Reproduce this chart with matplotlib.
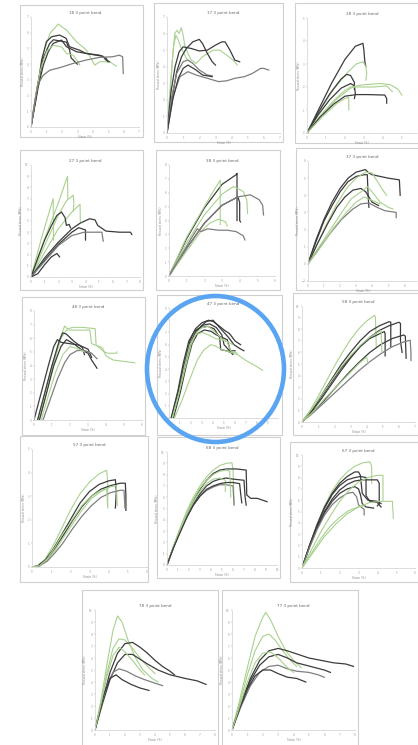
import matplotlib
matplotlib.use("Agg")
import matplotlib.pyplot as plt
from matplotlib.patches import Rectangle, Ellipse

# ---------------- data (strain %, stress) ----------------
titles = ["18 3 point bend", "17 3 point bend", "28 3 point bend",
          "27 3 point bend", "38 3 point bend", "37 3 point bend",
          "48 3 point bend", "47 3 point bend", "58 3 point bend",
          "57 3 point bend", "68 3 point bend", "67 3 point bend",
          "78 3 point bend", "77 3 point bend"]

p18_grp = ["g", "d", "d", "d", "g", "m"]
p18 = [
    [(0,0),(0.15,1.06),(0.47,2.98),(0.8,4.68),(1.23,5.96),(1.76,6.55),(2.3,6.17),(2.95,5.43),(3.59,4.89),(4.13,3.94),(4.45,4.15),(5.1,4.15),(5.53,3.87)],
    [(0,0),(0.37,2.13),(0.69,4.26),(1.0,5.43),(1.33,5.74),(1.85,5.85),(2.28,5.64),(2.49,5.11),(3.14,4.89),(3.57,4.68),(4.22,4.57),(4.65,4.51),(4.86,4.26),(5.08,4.15)],
    [(0,0),(0.4,2.5),(0.8,4.4),(1.2,5.3),(1.45,5.55),(2.3,5.4),(2.5,4.9),(2.6,4.4),(3.0,4.0)],
    [(0,0),(0.47,2.55),(0.8,3.94),(1.12,4.79),(1.44,5.32),(1.98,5.53),(2.3,5.11),(2.95,4.79),(3.59,4.68),(4.45,4.57),(4.88,4.36),(5.0,4.15)],
    [(0,0),(0.3,2.0),(0.6,3.6),(1.0,4.8),(1.44,5.2),(1.98,5.1),(2.3,4.68),(2.73,4.57),(3.05,4.15),(3.16,3.94)],
    [(0,0),(0.26,1.7),(0.47,2.77),(0.8,3.3),(1.23,3.62),(1.85,3.77),(2.71,4.04),(3.57,4.26),(4.43,4.43),(5.29,4.47),(5.72,4.57),(5.94,4.47),(5.98,3.4)],
]

p17_grp = ["g", "g", "d", "d", "m", "m", "d"]
p17 = [
    [(0,0),(0.2,2.5),(0.35,4.6),(0.48,6.0),(0.62,6.2),(0.75,6.0),(0.89,6.35),(1.0,5.9),(1.1,5.3),(1.3,4.8),(1.5,4.4),(1.8,4.2),(2.2,4.6),(2.85,5.0),(3.27,5.0),(3.7,4.7),(4.1,4.4),(4.35,4.1)],
    [(0,0),(0.2,2.8),(0.4,5.2),(0.55,5.9),(0.7,5.6),(0.85,5.2),(1.0,4.9),(1.2,4.5),(1.4,4.3)],
    [(0,0),(0.3,2.0),(0.6,3.7),(0.9,4.6),(1.2,5.1),(1.6,5.5),(2.0,5.65),(2.2,5.4),(2.5,4.8),(2.8,4.3),(3.0,4.1)],
    [(0,0),(0.25,2.5),(0.5,4.0),(0.75,4.9),(1.0,5.2),(1.5,5.1),(2.0,4.95),(2.5,5.0),(3.0,5.3),(3.4,5.5),(3.6,5.5),(3.9,5.0),(4.2,4.4),(4.5,4.3)],
    [(0,0),(0.3,2.2),(0.6,3.6),(1.0,4.3),(1.3,4.4),(1.6,4.2),(2.0,3.8),(2.5,3.5),(2.8,3.45)],
    [(0,0),(0.4,2.3),(0.8,3.4),(1.3,3.7),(1.8,3.5),(2.5,3.3),(3.2,3.1),(3.7,3.15),(4.2,3.3),(4.8,3.4),(5.3,3.6),(5.8,3.9),(6.0,3.9),(6.3,3.8)],
    [(0,0),(0.35,2.0),(0.7,3.3),(1.0,3.9),(1.3,4.1),(1.8,3.8),(2.2,3.5),(2.8,3.4)],
]

p28_grp = ["d", "g", "d", "d", "g", "g", "d", "g"]
p28 = [
    [(0,0),(0.6,1.0),(1.3,2.17),(2.0,3.2),(2.55,3.77),(2.95,3.9),(3.0,3.6),(3.05,3.1),(3.1,2.9)],
    [(0,0),(0.7,1.0),(1.4,1.9),(2.1,2.6),(2.6,3.0),(2.95,3.1),(3.1,2.9),(3.15,2.6),(3.1,2.3)],
    [(0,0),(0.6,0.9),(1.2,1.7),(1.8,2.35),(2.1,2.55),(2.3,2.5),(2.4,2.35),(2.5,2.2),(2.5,1.9)],
    [(0,0),(0.6,0.8),(1.2,1.45),(1.8,1.95),(2.3,2.15),(2.5,2.05),(2.55,1.7),(2.5,1.5)],
    [(0,0),(0.7,0.75),(1.4,1.4),(2.0,1.85),(2.3,2.0),(3.0,2.1),(3.9,2.15),(4.4,2.1),(4.8,1.9),(5.0,1.65)],
    [(0,0),(0.8,0.8),(1.6,1.5),(2.3,1.95),(2.5,2.0),(3.5,2.0),(4.2,2.05),(4.5,1.8)],
    [(0,0),(0.7,0.7),(1.4,1.25),(2.0,1.6),(2.6,1.67),(3.2,1.67),(4.1,1.65),(4.2,1.5),(4.2,1.3)],
    [(0,0),(0.8,0.7),(1.6,1.3),(2.0,1.5),(2.2,1.55),(2.2,1.0)],
]

p27_grp = ["g", "g", "g", "g", "d", "d", "d", "m", "d"]
p27 = [
    [(0,0),(1.0,3.4),(2.0,6.6),(2.68,9.0),(2.7,7.0)],
    [(0,0),(0.8,3.6),(1.63,7.0),(1.65,3.3)],
    [(0,0),(1.0,2.8),(2.0,5.5),(2.6,6.8),(3.1,7.3),(3.15,6.6),(3.1,5.9)],
    [(0,0),(1.0,2.2),(2.0,4.3),(3.0,5.8),(3.6,6.5),(3.62,4.9)],
    [(0,0),(0.5,1.7),(1.0,3.3),(1.5,4.6),(1.9,5.5),(2.24,5.8),(2.5,5.3),(2.6,4.6),(2.8,4.7),(2.9,4.4)],
    [(0,0),(1.0,1.7),(2.0,3.1),(3.0,4.3),(3.6,4.8),(4.3,5.2),(4.7,5.1),(4.9,4.6),(5.5,4.1),(6.5,4.0),(7.3,4.0),(7.4,3.8)],
    [(0,0),(1.0,1.5),(2.0,2.9),(3.0,4.0),(3.5,4.4),(4.0,4.2),(4.0,3.3)],
    [(0,0),(1.0,1.4),(2.0,2.8),(3.0,3.7),(3.9,4.0),(5.2,4.0),(5.3,3.2)],
    [(0,0),(0.5,0.3),(1.0,1.1),(1.5,1.8),(1.9,2.1),(2.1,1.8)],
]

p38_grp = ["d", "g", "g", "d", "m", "g", "m"]
p38 = [
    [(0,0),(1.0,2.7),(2.0,4.9),(3.0,6.6),(3.8,7.3),(3.85,7.4),(3.85,4.0)],
    [(0,0),(1.0,2.8),(2.0,5.0),(2.6,6.3),(2.9,6.9),(2.9,3.7)],
    [(0,0),(1.0,2.4),(2.0,4.4),(3.0,5.9),(3.65,6.45),(4.2,6.1),(4.4,5.5),(4.45,4.5)],
    [(0,0),(1.0,2.0),(2.0,3.8),(3.0,5.1),(3.9,5.7),(4.0,5.3),(4.0,4.0),(4.05,3.9)],
    [(0,0),(1.0,2.0),(2.0,3.8),(3.0,5.1),(3.9,5.7),(4.6,5.85),(5.1,5.5),(5.3,5.1),(5.35,4.4)],
    [(0,0),(1.0,1.8),(1.8,3.2),(2.3,3.8),(2.8,4.1),(3.2,3.9),(3.3,3.6)],
    [(0,0),(0.7,1.5),(1.3,2.8),(1.6,3.4),(1.8,3.2),(2.2,3.4),(2.8,3.3),(3.3,3.3),(3.8,3.2),(4.2,2.9),(4.3,2.6)],
]

p37_grp = ["d", "d", "g", "d", "g", "m", "g"]
p37 = [
    [(0,0),(0.5,1.4),(1.0,2.6),(1.5,3.6),(2.0,4.4),(2.5,5.0),(3.0,5.35),(3.58,5.5),(3.8,5.3),(4.0,5.2),(4.5,5.1),(5.0,5.0),(5.7,4.9),(5.75,4.0)],
    [(0,0),(0.5,1.3),(1.0,2.5),(1.5,3.4),(2.0,4.2),(2.5,4.8),(3.0,5.1),(3.5,5.2),(3.7,5.2),(3.75,4.0),(3.8,3.3)],
    [(0,0),(0.6,1.2),(1.2,2.4),(1.8,3.5),(2.4,4.4),(3.0,5.0),(3.6,5.35),(4.0,5.3),(4.2,5.0),(4.6,4.4),(4.9,4.0)],
    [(0,0),(0.6,1.2),(1.2,2.3),(1.8,3.3),(2.3,3.9),(2.8,4.3),(3.3,4.4),(3.6,4.2),(3.8,3.9),(4.0,3.6),(4.4,3.4)],
    [(0,0),(0.7,1.0),(1.4,2.0),(2.1,3.0),(2.7,3.8),(3.3,4.2),(3.7,4.5),(4.0,4.2),(4.5,3.6),(5.0,3.3),(5.3,3.2)],
    [(0,0),(0.7,0.9),(1.4,1.8),(2.1,2.6),(2.8,3.2),(3.3,3.5),(3.8,3.55),(4.3,3.3),(4.8,3.1),(5.5,3.0),(5.5,2.7)],
    [(0,0),(0.8,1.0),(1.6,2.1),(2.4,3.0),(3.0,3.6),(3.5,3.9),(4.0,3.7),(4.5,3.5)],
]

p48_grp = ["g", "g", "d", "d", "d", "m", "g"]
p48 = [
    [(0.2,0),(0.6,2.0),(1.0,4.0),(1.4,5.8),(1.7,6.9),(1.85,6.7),(2.2,6.8),(2.7,6.8),(3.4,6.7),(3.45,5.5),(3.9,5.0),(4.1,4.9),(4.6,4.9),(4.6,5.0)],
    [(0.3,0),(0.7,2.0),(1.1,4.2),(1.5,6.0),(1.8,6.6),(2.4,6.6),(3.1,6.6),(3.2,5.6),(3.8,5.3),(4.0,4.7),(4.4,4.4),(5.0,4.3),(5.6,4.2)],
    [(0,0),(0.4,2.0),(0.8,4.0),(1.1,5.4),(1.3,5.9),(1.5,5.7),(2.0,5.6),(2.5,5.5),(2.7,5.3),(2.8,4.8)],
    [(0.2,0),(0.6,2.0),(1.0,4.0),(1.4,5.8),(1.6,6.4),(1.8,6.3),(2.2,5.8),(2.5,5.5),(3.0,5.2),(3.2,4.6)],
    [(0.3,0),(0.7,2.0),(1.1,4.0),(1.5,5.4),(1.8,5.9),(2.2,5.6),(2.7,5.1),(3.0,4.9),(3.2,4.4),(3.4,4.0),(3.5,3.8)],
    [(0.5,0),(0.9,1.5),(1.3,3.0),(1.7,4.2),(2.0,4.8),(2.4,5.1),(2.8,5.1),(3.2,4.9),(3.5,4.5)],
    [(0.4,0),(0.8,1.8),(1.2,3.5),(1.6,4.8),(2.0,5.4),(2.5,5.2),(2.8,5.0)],
]

p47_grp = ["d", "d", "d", "d", "d", "g", "g", "g"]
p47 = [
    [(0.2,0),(0.8,2.0),(1.4,4.5),(1.9,6.3),(2.4,7.3),(3.0,7.8),(3.6,8.0),(4.0,7.9),(4.6,7.5),(5.0,7.2),(5.5,6.9),(6.0,6.3),(6.5,6.0)],
    [(0.3,0),(0.9,2.0),(1.5,4.4),(2.0,6.2),(2.5,7.2),(3.1,7.6),(3.7,7.7),(4.3,7.4),(4.8,6.8),(5.0,6.0),(5.2,5.8),(5.5,5.5),(6.0,5.5)],
    [(0.2,0),(0.8,2.2),(1.3,4.5),(1.8,6.3),(2.3,7.1),(2.9,7.4),(3.5,7.5),(4.1,7.3),(4.6,6.6),(4.7,5.6),(5.2,5.5),(5.8,5.3)],
    [(0.4,0),(1.0,2.0),(1.6,4.4),(2.1,6.1),(2.6,6.9),(3.2,7.2),(3.8,7.1),(4.3,6.8),(4.8,6.6),(5.3,6.4),(5.6,5.4),(5.8,5.2)],
    [(0.3,0),(0.9,2.1),(1.4,4.3),(1.9,6.0),(2.4,6.9),(2.9,7.5),(3.4,7.9),(4.0,8.0),(4.4,7.6),(4.9,7.1),(5.4,6.6),(5.9,6.0),(6.4,5.7),(6.8,5.5)],
    [(0.5,0),(1.2,1.5),(1.9,3.2),(2.6,4.8),(3.2,5.6),(3.8,6.0),(4.2,5.9),(4.8,5.6),(5.5,5.4),(6.2,5.2),(7.0,4.7),(7.8,4.3),(8.5,3.9)],
    [(0.3,0),(0.9,2.0),(1.5,4.2),(2.0,6.0),(2.5,7.0),(3.0,7.4),(3.6,7.5),(4.2,7.0),(4.8,6.5),(5.3,6.2),(5.6,5.5),(6.2,5.3)],
    [(0.3,0),(0.9,2.0),(1.4,4.2),(1.9,6.0),(2.4,6.8),(3.0,7.0),(3.6,6.8),(4.2,6.5),(4.8,6.4),(5.4,6.2),(5.8,6.0)],
]

p58_grp = ["g", "d", "d", "d", "d", "m", "g", "g"]
p58 = [
    [(0,0),(0.5,1.0),(1.0,2.2),(1.5,3.5),(2.0,4.8),(2.5,6.0),(3.0,7.1),(3.5,8.0),(4.0,8.7),(4.5,9.2),(4.55,9.0),(4.6,6.5)],
    [(0,0),(0.6,1.0),(1.2,2.3),(1.8,3.6),(2.4,4.9),(3.0,6.0),(3.6,7.0),(4.2,7.8),(4.8,8.3),(5.4,8.65),(5.5,8.6),(5.5,6.5)],
    [(0,0),(0.6,0.9),(1.2,2.0),(1.8,3.2),(2.4,4.4),(3.0,5.5),(3.6,6.5),(4.2,7.3),(4.8,7.9),(5.4,8.3),(6.0,8.6),(6.1,8.5),(6.1,7.0),(6.2,6.0)],
    [(0,0),(0.6,1.0),(1.2,2.2),(1.8,3.4),(2.4,4.6),(3.0,5.6),(3.6,6.5),(4.2,7.2),(4.8,7.6),(5.1,7.8),(5.15,7.6),(5.15,5.7)],
    [(0,0),(0.7,0.9),(1.4,1.9),(2.1,3.0),(2.8,4.1),(3.5,5.1),(4.2,6.0),(4.9,6.7),(5.6,7.2),(6.3,7.5),(6.4,7.4),(6.45,5.5)],
    [(0,0),(0.7,0.8),(1.4,1.7),(2.1,2.6),(2.8,3.5),(3.5,4.4),(4.2,5.2),(4.9,5.9),(5.6,6.5),(6.3,6.9),(6.7,7.05),(6.75,6.0),(6.75,5.3)],
    [(0,0),(0.6,1.1),(1.2,2.3),(1.8,3.5),(2.4,4.7),(3.0,5.7),(3.6,6.6),(4.2,7.3),(4.9,7.9),(4.95,6.0)],
    [(0,0),(0.7,0.9),(1.4,2.0),(2.1,3.0),(2.8,4.0),(3.5,5.0),(4.0,5.6),(4.1,5.0)],
]

p57_grp = ["g", "d", "d", "g", "m", "g"]
p57 = [
    [(0,0),(0.3,0.05),(0.7,0.35),(1.1,0.9),(1.5,1.55),(2.0,2.4),(2.5,3.1),(3.0,3.6),(3.5,3.95),(3.9,4.1),(3.95,3.5),(3.95,2.6)],
    [(0,0),(0.3,0.05),(0.7,0.3),(1.1,0.75),(1.5,1.3),(2.0,2.0),(2.5,2.7),(3.0,3.2),(3.5,3.5),(4.0,3.65),(4.35,3.7),(4.4,3.2),(4.35,2.5)],
    [(0,0),(0.4,0.05),(0.8,0.35),(1.2,0.8),(1.6,1.3),(2.1,1.95),(2.6,2.55),(3.1,3.0),(3.6,3.3),(4.1,3.45),(4.6,3.55),(4.87,3.55),(4.9,3.0),(4.9,2.4)],
    [(0,0),(0.4,0.05),(0.8,0.3),(1.2,0.7),(1.6,1.2),(2.1,1.8),(2.6,2.4),(3.1,2.9),(3.6,3.2),(4.1,3.4),(4.4,3.45),(4.45,2.6)],
    [(0,0),(0.4,0.05),(0.8,0.25),(1.2,0.6),(1.6,1.0),(2.1,1.6),(2.6,2.15),(3.1,2.6),(3.6,2.95),(4.1,3.15),(4.6,3.25),(4.8,3.25),(4.85,2.5)],
    [(0,0),(0.4,0.05),(0.8,0.35),(1.2,0.85),(1.6,1.4),(2.1,2.0),(2.6,2.6),(3.1,3.0),(3.6,3.25),(3.9,3.3),(3.95,2.5)],
]

p68_grp = ["g", "d", "d", "m", "g", "g", "d"]
p68 = [
    [(0,0),(0.6,1.7),(1.2,3.3),(1.8,4.8),(2.4,6.0),(3.0,7.0),(3.6,7.8),(4.2,8.4),(4.8,8.8),(5.4,9.0),(5.9,9.05),(6.0,8.5),(6.1,5.4)],
    [(0,0),(0.6,1.6),(1.2,3.1),(1.8,4.5),(2.4,5.7),(3.0,6.7),(3.6,7.5),(4.2,8.1),(4.8,8.4),(5.4,8.5),(6.3,8.5),(7.2,8.4),(7.25,6.2),(7.6,5.9),(8.2,5.9),(9.1,5.6)],
    [(0,0),(0.6,1.6),(1.2,3.0),(1.8,4.3),(2.4,5.4),(3.0,6.3),(3.6,7.0),(4.2,7.4),(4.8,7.6),(5.4,7.7),(6.0,7.6),(7.0,7.5),(7.1,6.0),(7.2,5.3)],
    [(0,0),(0.6,1.6),(1.2,3.0),(1.8,4.3),(2.4,5.3),(3.0,6.1),(3.6,6.6),(4.2,6.9),(4.8,7.1),(5.4,7.1),(6.0,7.0),(6.1,5.3)],
    [(0,0),(0.6,1.7),(1.2,3.2),(1.8,4.6),(2.4,5.8),(3.0,6.8),(3.6,7.5),(4.2,8.0),(4.8,8.3),(5.4,8.4),(5.7,8.3),(5.8,6.0)],
    [(0,0),(0.6,1.6),(1.2,3.1),(1.8,4.5),(2.4,5.6),(3.0,6.5),(3.6,7.2),(4.2,7.6),(4.8,7.7),(5.3,7.5),(5.3,6.5)],
    [(0,0),(0.6,1.55),(1.2,2.9),(1.8,4.2),(2.4,5.3),(3.0,6.1),(3.6,6.7),(4.2,7.0),(4.8,7.2),(5.4,7.3),(6.0,7.3),(6.6,7.2),(6.7,6.3),(6.8,5.5)],
]

p67_grp = ["g", "d", "d", "d", "d", "m", "g", "g", "g"]
p67 = [
    [(0,0),(0.4,2.0),(0.8,3.9),(1.2,5.5),(1.6,6.8),(2.0,7.8),(2.4,8.5),(2.8,9.0),(3.2,9.3),(3.6,9.4),(3.7,9.0),(3.7,7.5)],
    [(0,0),(0.4,2.0),(0.8,3.8),(1.2,5.4),(1.6,6.6),(2.0,7.5),(2.4,8.1),(2.8,8.5),(3.0,8.5),(3.1,8.2),(3.2,6.6),(3.5,6.0),(4.0,5.9),(4.2,5.7)],
    [(0,0),(0.4,2.0),(0.8,3.8),(1.2,5.3),(1.6,6.5),(2.0,7.3),(2.4,7.8),(2.8,8.0),(3.1,8.1),(3.4,8.0),(3.4,6.4),(3.6,5.9),(4.0,5.8),(4.2,5.4)],
    [(0,0),(0.4,1.9),(0.8,3.6),(1.2,5.0),(1.6,6.1),(2.0,6.9),(2.4,7.4),(2.8,7.7),(3.2,7.8),(4.0,7.8),(4.1,7.5),(4.1,5.7),(4.0,5.5)],
    [(0,0),(0.4,1.9),(0.8,3.5),(1.2,4.9),(1.6,5.9),(2.0,6.6),(2.4,7.0),(2.8,7.2),(3.0,7.0),(3.1,6.5),(3.2,5.7),(3.4,5.4),(3.8,5.3)],
    [(0,0),(0.4,1.8),(0.8,3.4),(1.2,4.7),(1.6,5.6),(2.0,6.2),(2.4,6.6),(2.7,6.7),(2.9,6.3),(3.0,5.6),(3.2,5.3),(3.3,5.2),(3.3,4.7)],
    [(0,0),(0.5,1.6),(1.0,3.2),(1.5,4.6),(2.0,5.9),(2.5,6.9),(3.0,7.6),(3.5,8.0),(4.0,8.2),(4.3,8.2),(4.3,6.0)],
    [(0,0),(0.6,1.4),(1.2,2.8),(1.8,3.9),(2.4,4.8),(3.0,5.4),(3.6,5.8),(4.2,5.9),(4.8,5.9),(4.85,4.4)],
    [(0,0),(0.5,1.3),(1.0,2.6),(1.5,3.7),(2.0,4.5),(2.5,5.1),(3.0,5.4),(3.3,5.5)],
]

p78_grp = ["g", "g", "d", "d", "m", "d", "g"]
p78 = [
    [(0,0),(0.4,2.5),(0.8,5.5),(1.2,8.3),(1.5,9.5),(1.8,9.0),(2.2,7.5),(2.7,6.0),(3.2,5.0),(3.8,4.3),(4.2,4.0)],
    [(0,0),(0.4,2.3),(0.8,4.8),(1.2,6.8),(1.6,7.6),(2.0,7.5),(2.5,6.8),(3.0,6.0),(3.5,5.3),(4.0,4.7)],
    [(0,0),(0.5,2.5),(1.0,4.8),(1.5,6.4),(2.0,7.2),(2.5,7.3),(3.0,6.9),(3.5,6.4),(4.0,5.8),(4.5,5.3),(5.0,4.9),(5.3,4.6)],
    [(0,0),(0.5,2.2),(1.0,4.2),(1.5,5.6),(2.0,6.3),(2.5,6.3),(3.0,5.9),(3.5,5.5),(4.2,5.0),(5.0,4.6),(6.0,4.3),(6.8,4.1),(7.4,3.8)],
    [(0,0),(0.4,2.0),(0.8,3.8),(1.2,4.8),(1.6,5.1),(2.1,4.9),(2.7,4.5),(3.3,4.2),(4.0,3.9),(4.5,3.7)],
    [(0,0),(0.3,1.5),(0.6,3.0),(1.0,4.3),(1.4,4.6),(1.8,4.2),(2.4,3.8),(3.0,3.5),(3.6,3.3)],
    [(0,0),(0.4,2.2),(0.8,4.5),(1.2,6.2),(1.6,6.9),(2.0,6.5),(2.5,5.8),(3.0,5.0),(3.3,4.6)],
]

p77_grp = ["g", "g", "d", "d", "m", "d", "g"]
p77 = [
    [(0,0),(0.5,2.5),(1.0,5.2),(1.5,7.8),(2.0,9.4),(2.2,9.8),(2.5,9.2),(3.0,7.8),(3.5,6.6),(4.0,5.8),(4.5,5.2)],
    [(0,0),(0.5,2.2),(1.0,4.6),(1.5,6.6),(2.0,7.8),(2.4,8.0),(2.8,7.5),(3.3,6.6),(3.8,5.8),(4.2,5.3)],
    [(0,0),(0.6,2.3),(1.2,4.3),(1.8,5.8),(2.4,6.6),(3.0,6.8),(3.6,6.6),(4.3,6.3),(5.0,6.0),(5.8,5.8),(6.6,5.6),(7.4,5.5),(7.9,5.3)],
    [(0,0),(0.6,2.2),(1.2,4.1),(1.8,5.4),(2.4,6.1),(3.0,6.3),(3.6,6.0),(4.2,5.6),(4.8,5.4),(5.4,5.2),(6.0,5.0),(6.4,4.8)],
    [(0,0),(0.6,2.0),(1.2,3.7),(1.8,4.8),(2.4,5.3),(3.0,5.4),(3.6,5.1),(4.2,4.9),(5.0,4.8),(5.6,4.6),(6.0,4.4)],
    [(0,0),(0.5,1.8),(1.0,3.4),(1.5,4.5),(2.0,5.0),(2.5,5.0),(3.0,4.7),(3.6,4.4),(4.2,4.3),(4.8,4.0)],
    [(0,0),(0.5,2.0),(1.0,4.0),(1.5,5.6),(2.0,6.4),(2.5,6.5),(3.0,6.0),(3.6,5.2),(4.0,4.8)],
]

# axis ranges per panel (x max, y min, y max)
x_max = [7, 7, 5.8, 8, 6, 6.8, 6, 9.9, 7, 6, 10, 6, 8, 8]
y_min = [0, 0, 0, 0, 0, -1, 0, 0, 0, 0, 0, 0, 0, 0]
y_max = [7, 7, 5, 10, 8, 6, 8, 9, 10, 5, 10, 10, 10, 10]

# ---------------- layout / styling ----------------
W, H = 418, 745
fig = plt.figure(figsize=(W / 100, H / 100), dpi=100)
fig.patch.set_facecolor("white")

colors = {"g": "#a9d18e", "d": "#3c3c3c", "m": "#7f7f7f"}
widths = {"g": 0.8, "d": 0.9, "m": 0.9}

# frames (l, t, r, b) and axes boxes (l, t, r, b) in pixels
frames = [(20, 5, 143, 137), (154, 3, 283, 142), (295, 3, 420, 143),
          (20, 150, 143, 290), (156, 150, 280, 290), (296, 148, 420, 290),
          (22, 297, 145, 435), (157, 295, 282, 435), (293, 293, 420, 435),
          (20, 436, 148, 582), (157, 437, 280, 578), (290, 442, 420, 582),
          (82, 590, 218, 746), (222, 590, 358, 746)]
boxes = [(31, 17, 139, 127), (167, 17, 280, 133), (307, 18, 417, 133),
         (31, 165, 140, 277), (169, 165, 275, 276), (308, 161, 417, 281),
         (34, 311, 142, 420), (169, 308, 278, 418), (302, 306, 415, 422),
         (32, 449, 147, 567), (167, 452, 277, 565), (302, 455, 415, 568),
         (95, 610, 215, 730), (232, 610, 355, 730)]

curves = [p18, p17, p28, p27, p38, p37, p48, p47, p58, p57, p68, p67, p78, p77]
groups = [p18_grp, p17_grp, p28_grp, p27_grp, p38_grp, p37_grp, p48_grp,
          p47_grp, p58_grp, p57_grp, p68_grp, p67_grp, p78_grp, p77_grp]

for i in range(14):
    l, t, r, b = frames[i]
    fig.patches.append(Rectangle((l / W, 1 - b / H), (r - l) / W, (b - t) / H,
                                 transform=fig.transFigure, facecolor="white",
                                 edgecolor="#d0d0d0", linewidth=0.8, zorder=-5))
for i in range(14):
    l, t, r, b = boxes[i]
    ax = fig.add_axes([l / W, 1 - b / H, (r - l) / W, (b - t) / H])
    ax.set_facecolor("none")
    for pts, g in zip(curves[i], groups[i]):
        xs = [p[0] for p in pts]
        ys = [p[1] for p in pts]
        ax.plot(xs, ys, color=colors[g], lw=widths[g], solid_joinstyle="round")
    ax.set_xlim(0, x_max[i])
    ax.set_ylim(y_min[i], y_max[i])
    ax.set_xticks(range(0, int(x_max[i]) + 1))
    ax.set_yticks(range(int(y_min[i]), int(y_max[i]) + 1))
    ax.tick_params(labelsize=2, length=1, width=0.3, colors="#999999", pad=1)
    for s in ("top", "right"):
        ax.spines[s].set_visible(False)
    for s in ("left", "bottom"):
        ax.spines[s].set_color("#d0d0d0")
        ax.spines[s].set_linewidth(0.5)
    ax.set_xlabel("Strain (%)", fontsize=2, color="#888888", labelpad=1)
    ax.set_ylabel("Flexural stress (MPa)", fontsize=2, color="#888888", labelpad=1)
    ax.set_title(titles[i], fontsize=3, color="#666666", pad=2)

# highlight circle
fig.patches.append(Ellipse((215.5 / W, 1 - 369 / H), 137 / W, 146 / H,
                           transform=fig.transFigure, fill=False,
                           edgecolor="#5aa5f2", linewidth=3.3, zorder=10))

fig.savefig("out.png", dpi=100, facecolor="white")
